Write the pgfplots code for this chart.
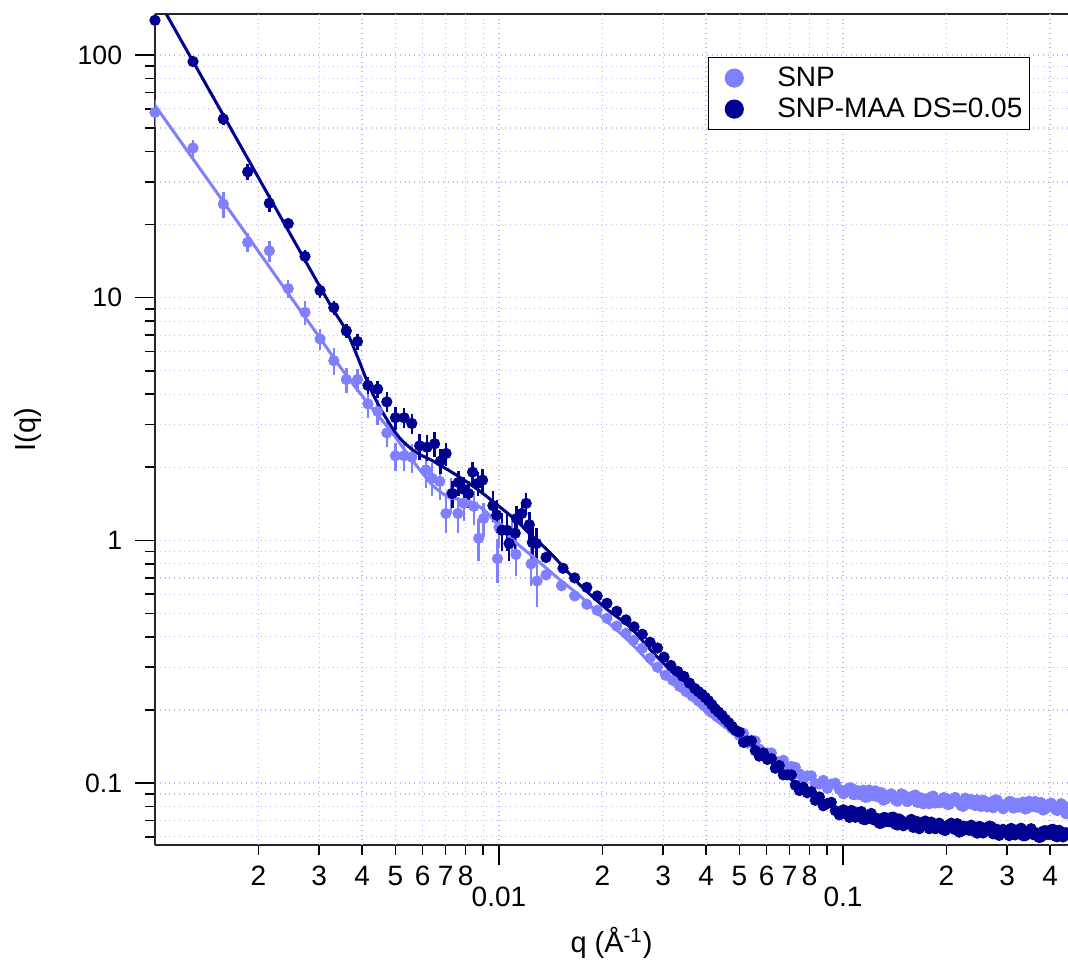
\documentclass[border=0pt]{standalone}
\usepackage{fontspec}
\setmainfont{Liberation Sans}
\usepackage{pgfplots}
\pgfplotsset{compat=1.18}
\definecolor{lightc}{RGB}{128,128,255}
\definecolor{darkc}{RGB}{0,0,145}
\definecolor{gridc}{RGB}{185,185,255}
\begin{document}
\begin{tikzpicture}
\begin{axis}[
  at={(0pt,0pt)}, anchor=south west,
  scale only axis, width=456.5pt, height=415.5pt,
  xmode=log, ymode=log,
  xmin=0.001, xmax=0.451, ymin=0.0555, ymax=147.6,
  axis x line*=box, axis y line*=left,
  axis line style={-, line width=0.8pt, black!85},
  tick align=outside, xtick pos=lower, ytick pos=left,
  major tick length=10pt, minor tick length=5pt,
  every tick/.style={black, line width=0.8pt},
  /pgf/number format/assume math mode=true,
  xtick={0.01,0.1}, xticklabels={0.01,0.1},
  minor xtick={0.009,0.09},
  extra x ticks={0.002,0.003,0.004,0.005,0.006,0.007,0.008,0.02,0.03,0.04,0.05,0.06,0.07,0.08,0.2,0.3,0.4},
  extra x tick labels={2,3,4,5,6,7,8,2,3,4,5,6,7,8,2,3,4},
  extra x tick style={major tick length=5pt, grid=major,
     tick label style={font=\fontsize{10}{12}\selectfont, yshift=5.5pt}},
  xticklabel style={font=\fontsize{14}{16}\selectfont, yshift=-7.5pt},
  ytick={0.1,1,10,100}, yticklabels={0.1,1,10,100},
  minor ytick={0.06,0.07,0.08,0.09,0.2,0.3,0.4,0.5,0.6,0.7,0.8,0.9,2,3,4,5,6,7,8,9,20,30,40,50,60,70,80,90},
  yticklabel style={font=\fontsize{13.3}{16}\selectfont, xshift=-3pt},
  grid=both,
  major grid style={gridc, dotted, line width=0.6pt},
  minor grid style={gridc, dotted, line width=0.6pt},
  xlabel={q (Å\textsuperscript{-1})},
  ylabel={I(q)},
  xlabel style={font=\fontsize{14.5}{17}\selectfont, at={(axis description cs:0.5,-0.118)}, anchor=center},
  ylabel style={font=\fontsize{14.5}{17}\selectfont, at={(axis description cs:-0.139,0.5)}, anchor=center},
  legend style={at={(axis description cs:1,1)}, anchor=north east, xshift=-19pt, yshift=-21.5pt,
     draw=black, line width=0.6pt, fill=white, font=\fontsize{14}{16}\selectfont,
     inner xsep=3.5pt, inner ysep=2.5pt, row sep=0pt, nodes={inner sep=0pt}},
  legend cell align=left,
]
% ---- SNP low q with error bars
\addplot[only marks, mark=*, mark size=2.6pt, color=lightc,
  legend image code/.code={\path[draw=none,fill=none] (-9.5pt,-7.75pt) rectangle (21.5pt,7.75pt); \fill[lightc] (0pt,0pt) circle (4.5pt);},
  error bars/.cd, y dir=both, y explicit, error mark=none,
  error bar style={line width=1.2pt, color=lightc}]
  coordinates {
  (0.00100,58) +- (0,7.5)
  (0.00129,41.4) +- (0,3.3)
  (0.00158,24.3) +- (0,3)
  (0.00186,16.9) +- (0,1.5)
  (0.00215,15.6) +- (0,1.6)
  (0.00244,10.9) +- (0,0.9)
  (0.00273,8.7) +- (0,1.0)
  (0.00302,6.76) +- (0,0.7)
  (0.00331,5.5) +- (0,0.7)
  (0.00360,4.6) +- (0,0.55)
  (0.00388,4.6) +- (0,0.5)
  (0.00416,3.65) +- (0,0.45)
  (0.00444,3.4) +- (0,0.4)
  (0.00472,2.77) +- (0,0.35)
  (0.00500,2.23) +- (0,0.3)
  (0.00530,2.23) +- (0,0.3)
  (0.00558,2.2) +- (0,0.3)
  (0.00614,1.95) +- (0,0.3)
  (0.00639,1.80) +- (0,0.28)
  (0.00673,1.75) +- (0,0.28)
  (0.00701,1.29) +- (0,0.22)
  (0.00724,1.55) +- (0,0.25)
  (0.00760,1.29) +- (0,0.22)
  (0.00790,1.42) +- (0,0.22)
  (0.00845,1.38) +- (0,0.22)
  (0.00873,1.02) +- (0,0.2)
  (0.00902,1.23) +- (0,0.2)
  (0.00990,0.84) +- (0,0.17)
  (0.01000,1.13) +- (0,0.2)
  (0.01090,1.07) +- (0,0.18)
  (0.01120,0.875) +- (0,0.16)
  (0.01240,0.80) +- (0,0.15)
  (0.01290,0.68) +- (0,0.15)
  };
\addlegendentry{SNP}
% ---- SNP-MAA low q with error bars
\addplot[only marks, mark=*, mark size=2.6pt, color=darkc,
  legend image code/.code={\path[draw=none,fill=none] (-9.5pt,-7.75pt) rectangle (21.5pt,7.75pt); \fill[darkc] (0pt,0pt) circle (4.5pt);},
  error bars/.cd, y dir=both, y explicit, error mark=none,
  error bar style={line width=1.2pt, color=darkc}]
  coordinates {
  (0.00100,139) +- (0,6)
  (0.00129,94) +- (0,4)
  (0.00158,54.5) +- (0,3)
  (0.00186,33) +- (0,2.5)
  (0.00215,24.5) +- (0,2)
  (0.00244,20.2) +- (0,1.2)
  (0.00273,14.8) +- (0,0.9)
  (0.00302,10.7) +- (0,0.7)
  (0.00331,9.1) +- (0,0.6)
  (0.00360,7.3) +- (0,0.5)
  (0.00388,6.6) +- (0,0.5)
  (0.00416,4.35) +- (0,0.35)
  (0.00444,4.2) +- (0,0.35)
  (0.00472,3.72) +- (0,0.35)
  (0.00500,3.2) +- (0,0.35)
  (0.00530,3.2) +- (0,0.3)
  (0.00558,3.03) +- (0,0.3)
  (0.00588,2.45) +- (0,0.3)
  (0.00618,2.42) +- (0,0.3)
  (0.00650,2.5) +- (0,0.3)
  (0.00676,2.12) +- (0,0.25)
  (0.00702,2.28) +- (0,0.25)
  (0.00732,1.56) +- (0,0.2)
  (0.00762,1.73) +- (0,0.2)
  (0.00792,1.62) +- (0,0.2)
  (0.00815,1.56) +- (0,0.2)
  (0.00838,1.91) +- (0,0.2)
  (0.00870,1.72) +- (0,0.2)
  (0.00896,1.77) +- (0,0.2)
  (0.00960,1.39) +- (0,0.2)
  (0.00985,1.27) +- (0,0.2)
  (0.01020,1.10) +- (0,0.2)
  (0.01055,1.10) +- (0,0.2)
  (0.01070,0.97) +- (0,0.15)
  (0.01115,1.07) +- (0,0.15)
  (0.01125,1.23) +- (0,0.15)
  (0.01165,1.29) +- (0,0.15)
  (0.01200,1.42) +- (0,0.15)
  (0.01225,1.16) +- (0,0.15)
  (0.01250,0.98) +- (0,0.15)
  (0.01285,0.97) +- (0,0.15)
  };
\addlegendentry{SNP-MAA DS=0.05}
% ---- SNP mid/high q
\addplot[only marks, mark=*, mark size=2.6pt, color=lightc, forget plot] coordinates {
(0.0137,0.72) (0.0152,0.65) (0.0166,0.59) (0.0180,0.545) (0.0193,0.515) (0.0206,0.477)
(0.0220,0.443) (0.0234,0.414) (0.0246,0.387) (0.0261,0.359) (0.0275,0.327) (0.0289,0.30)
(0.0305,0.278) (0.0320,0.265) (0.0335,0.25) (0.0350,0.238) (0.0365,0.228) (0.0380,0.218)
(0.0395,0.208) (0.0407,0.200) (0.0416,0.195) (0.0430,0.188) (0.0445,0.182) (0.0460,0.175)
(0.0475,0.168) (0.0490,0.163)
(0.0500,0.157) (0.0514,0.160) (0.0527,0.146) (0.0542,0.150) (0.0556,0.149) (0.0571,0.138)
(0.0587,0.130) (0.0603,0.133) (0.0619,0.133) (0.0636,0.123) (0.0653,0.121) (0.0671,0.124)
(0.0689,0.113) (0.0708,0.117) (0.0727,0.116) (0.0747,0.109) (0.0767,0.104) (0.0788,0.107)
(0.0809,0.107) (0.0831,0.0995) (0.0854,0.0990) (0.0877,0.1025) (0.0901,0.0951) (0.0925,0.0989)
(0.0950,0.0998) (0.0976,0.0941) (0.1003,0.0902) (0.1030,0.0939) (0.1058,0.0953) (0.1086,0.0897)
(0.1116,0.0895) (0.1146,0.0934) (0.1177,0.0875) (0.1209,0.0915) (0.1242,0.0928) (0.1276,0.0879)
(0.1310,0.0849) (0.1346,0.0889) (0.1382,0.0902) (0.1420,0.0851) (0.1458,0.0853) (0.1498,0.0893)
(0.1538,0.0838) (0.1580,0.0878) (0.1623,0.0892) (0.1667,0.0847) (0.1712,0.0820) (0.1758,0.0861)
(0.1806,0.0876) (0.1855,0.0827) (0.1905,0.0829) (0.1957,0.0869) (0.2010,0.0817) (0.2064,0.0857)
(0.2120,0.0872) (0.2178,0.0828) (0.2237,0.0801) (0.2297,0.0840) (0.2360,0.0855) (0.2424,0.0807)
(0.2489,0.0809) (0.2557,0.0849) (0.2626,0.0797) (0.2697,0.0836) (0.2770,0.0851) (0.2845,0.0808)
(0.2922,0.0782) (0.3002,0.0822) (0.3083,0.0837) (0.3166,0.0792) (0.3252,0.0795) (0.3340,0.0834)
(0.3431,0.0785) (0.3524,0.0824) (0.3619,0.0839) (0.3717,0.0798) (0.3818,0.0773) (0.3922,0.0812)
(0.4028,0.0826) (0.4137,0.0780) (0.4249,0.0779) (0.4364,0.0809) (0.4445,0.0747)
(0.1016,0.0921) (0.1044,0.0955) (0.1072,0.0895) (0.1101,0.0930) (0.1131,0.0910) (0.1161,0.0873)
(0.1193,0.0935) (0.1225,0.0886) (0.1259,0.0877) (0.1293,0.0913) (0.1328,0.0856) (0.1364,0.0891)
(0.1401,0.0875) (0.1439,0.0841) (0.1478,0.0903) (0.1518,0.0857) (0.1559,0.0850) (0.1601,0.0885)
(0.1645,0.0831) (0.1689,0.0868) (0.1735,0.0853) (0.1782,0.0821) (0.1830,0.0883) (0.1880,0.0839)
(0.1931,0.0832) (0.1983,0.0868) (0.2037,0.0816) (0.2092,0.0852) (0.2149,0.0837) (0.2207,0.0806)
(0.2267,0.0866) (0.2328,0.0823) (0.2392,0.0817) (0.2456,0.0852) (0.2523,0.0800) (0.2591,0.0835)
(0.2661,0.0821) (0.2733,0.0790) (0.2807,0.0850) (0.2883,0.0807) (0.2962,0.0802) (0.3042,0.0838)
(0.3124,0.0788) (0.3209,0.0824) (0.3296,0.0811) (0.3385,0.0781) (0.3477,0.0841) (0.3571,0.0799)
(0.3668,0.0794) (0.3767,0.0830) (0.3870,0.0780) (0.3975,0.0815) (0.4082,0.0801) (0.4193,0.0770)
(0.4306,0.0822) (0.4404,0.0770)
};
% ---- SNP-MAA mid/high q
\addplot[only marks, mark=*, mark size=2.6pt, color=darkc, forget plot] coordinates {
(0.0137,0.85) (0.01535,0.767) (0.0166,0.70) (0.0180,0.64) (0.0193,0.59) (0.0206,0.55)
(0.0220,0.51) (0.0234,0.47) (0.0247,0.44) (0.0261,0.41) (0.0275,0.38) (0.0289,0.36)
(0.0302,0.33) (0.0316,0.305) (0.0331,0.288) (0.0345,0.275) (0.0358,0.258) (0.0371,0.245)
(0.0380,0.238) (0.0389,0.232) (0.0398,0.225) (0.0407,0.218) (0.0416,0.210) (0.0425,0.202)
(0.0435,0.196) (0.0445,0.190) (0.0455,0.183) (0.0466,0.177) (0.0476,0.171) (0.0486,0.165)
(0.0500,0.162) (0.0514,0.147) (0.0527,0.149) (0.0542,0.149) (0.0556,0.136) (0.0571,0.129)
(0.0587,0.133) (0.0603,0.125) (0.0619,0.126) (0.0636,0.115) (0.0653,0.118) (0.0671,0.108)
(0.0689,0.108) (0.0708,0.108) (0.0727,0.098) (0.0747,0.0931) (0.0767,0.0959) (0.0788,0.0911)
(0.0809,0.0921) (0.0831,0.0848) (0.0854,0.0876) (0.0877,0.0805) (0.0901,0.0823) (0.0925,0.0832)
(0.0950,0.0769) (0.0976,0.0739) (0.1003,0.0775) (0.1030,0.0743) (0.1058,0.0771) (0.1086,0.0722)
(0.1116,0.0757) (0.1146,0.0708) (0.1177,0.0732) (0.1209,0.0749) (0.1242,0.0701) (0.1276,0.0682)
(0.1310,0.0719) (0.1346,0.0693) (0.1382,0.0721) (0.1420,0.0676) (0.1458,0.0711) (0.1498,0.0666)
(0.1538,0.0691) (0.1580,0.0708) (0.1623,0.0664) (0.1667,0.0648) (0.1712,0.0685) (0.1758,0.0662)
(0.1806,0.0690) (0.1855,0.0648) (0.1905,0.0683) (0.1957,0.0641) (0.2010,0.0666) (0.2064,0.0683)
(0.2120,0.0642) (0.2178,0.0627) (0.2237,0.0664) (0.2297,0.0643) (0.2360,0.0670) (0.2424,0.0629)
(0.2489,0.0662) (0.2557,0.0622) (0.2626,0.0645) (0.2697,0.0662) (0.2770,0.0622) (0.2845,0.0608)
(0.2922,0.0644) (0.3002,0.0623) (0.3083,0.0650) (0.3166,0.0611) (0.3252,0.0645) (0.3340,0.0606)
(0.3431,0.0630) (0.3524,0.0648) (0.3619,0.0610) (0.3717,0.0596) (0.3818,0.0633) (0.3922,0.0614)
(0.4028,0.0642) (0.4137,0.0604) (0.4249,0.0638) (0.4364,0.0599) (0.4445,0.0624)
(0.1016,0.0755) (0.1044,0.0721) (0.1072,0.0761) (0.1101,0.0730) (0.1131,0.0762) (0.1161,0.0706)
(0.1193,0.0733) (0.1225,0.0707) (0.1259,0.0713) (0.1293,0.0683) (0.1328,0.0720) (0.1364,0.0692)
(0.1401,0.0723) (0.1439,0.0671) (0.1478,0.0699) (0.1518,0.0675) (0.1559,0.0683) (0.1601,0.0656)
(0.1645,0.0693) (0.1689,0.0667) (0.1735,0.0697) (0.1782,0.0648) (0.1830,0.0676) (0.1880,0.0654)
(0.1931,0.0662) (0.1983,0.0637) (0.2037,0.0674) (0.2092,0.0649) (0.2149,0.0680) (0.2207,0.0632)
(0.2267,0.0660) (0.2328,0.0638) (0.2392,0.0646) (0.2456,0.0621) (0.2523,0.0658) (0.2591,0.0634)
(0.2661,0.0664) (0.2733,0.0617) (0.2807,0.0644) (0.2883,0.0623) (0.2962,0.0630) (0.3042,0.0607)
(0.3124,0.0643) (0.3209,0.0620) (0.3296,0.0651) (0.3385,0.0606) (0.3477,0.0633) (0.3571,0.0613)
(0.3668,0.0622) (0.3767,0.0599) (0.3870,0.0636) (0.3975,0.0614) (0.4082,0.0644) (0.4193,0.0600)
(0.4306,0.0628) (0.4404,0.0609)
};
% ---- fits
\addplot[color=lightc, line width=1.5pt, smooth, tension=0.5, forget plot] coordinates {
(0.001,62) (0.0015,27.6) (0.002,15.5) (0.0025,9.9) (0.003,6.9) (0.0035,5.05) (0.00413,3.72)
(0.00482,2.85) (0.0054,2.29) (0.00589,1.95) (0.00643,1.68) (0.00706,1.52) (0.0077,1.47)
(0.0084,1.43) (0.00923,1.3) (0.01007,1.13) (0.01128,0.97) (0.0125,0.86) (0.015,0.69)
(0.0172,0.59) (0.0197,0.49) (0.0225,0.415) (0.0250,0.36) (0.0275,0.312) (0.030,0.28)
(0.0335,0.242) (0.0370,0.216) (0.0416,0.187) (0.0460,0.168) (0.0527,0.150) (0.0590,0.134)
(0.0662,0.121) (0.08,0.105) (0.1,0.094) (0.15,0.0866) (0.2,0.0843) (0.3,0.0813) (0.45,0.0800)
};
\addplot[color=darkc, line width=1.5pt, smooth, tension=0.5, forget plot] coordinates {
(0.00108,147) (0.0015,64.4) (0.002,31.2) (0.0025,17.8) (0.003,11.25) (0.0033,8.9)
(0.0036,7.3) (0.0039,5.6) (0.0042,4.3) (0.0046,3.35) (0.0051,2.68) (0.0057,2.32)
(0.0064,2.13) (0.0072,1.93) (0.00807,1.74) (0.00898,1.56) (0.01007,1.37) (0.01128,1.2)
(0.0123,1.06) (0.01407,0.89) (0.0172,0.655) (0.0206,0.52) (0.0240,0.44) (0.0275,0.355)
(0.0316,0.29) (0.0371,0.232) (0.0425,0.193) (0.0486,0.162) (0.0562,0.137) (0.0662,0.112)
(0.08,0.090) (0.1,0.0765) (0.15,0.0688) (0.2,0.0659) (0.3,0.0630) (0.45,0.0618)
};
\end{axis}
\pgfresetboundingbox
\useasboundingbox (-77.5pt,-60pt) rectangle (456.5pt,422.5pt);
\end{tikzpicture}
\end{document}
